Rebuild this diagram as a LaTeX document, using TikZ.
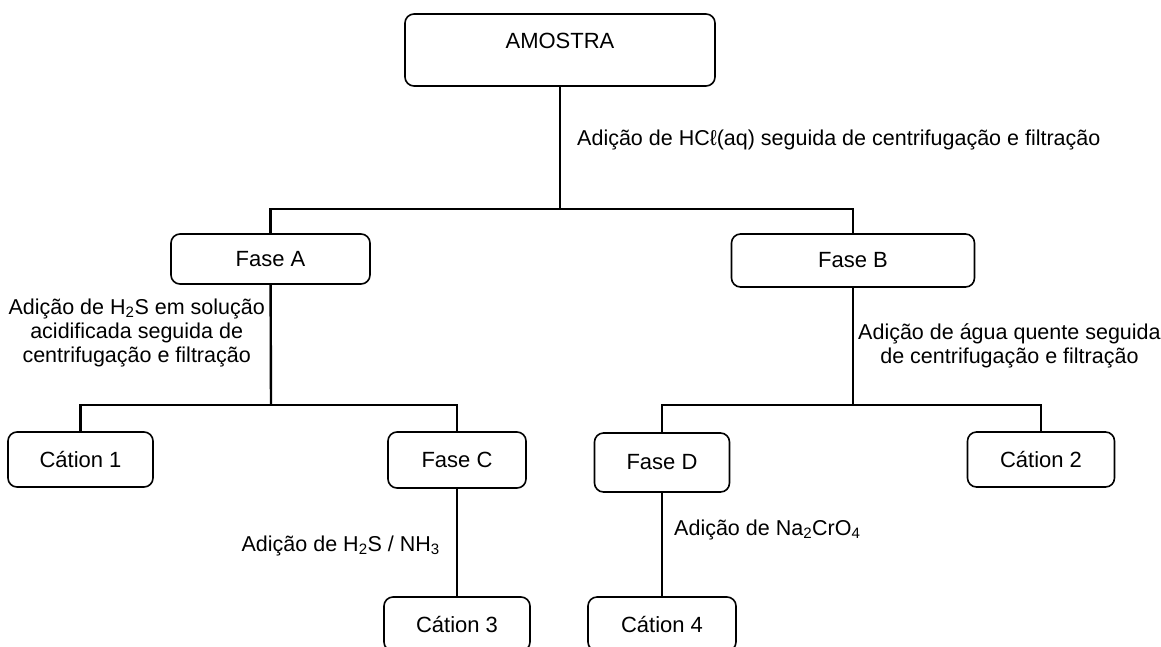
\documentclass[tikz,border=0pt]{standalone}
\usepackage{fontspec}
\setmainfont{Liberation Sans}
\begin{document}
\begin{tikzpicture}[x=1pt,y=-1pt,font=\fontsize{22}{24}\selectfont]
        \tikzstyle{fase}=[draw=black,line width=1.6pt,rounded corners=9pt,inner sep=0pt]
        \tikzstyle{edge}=[draw,line width=2.4pt]
        \tikzstyle{passo}=[inner sep=0pt,align=center,font=\fontsize{21.5}{24}\selectfont]
        \useasboundingbox (0,0) rectangle (1161,646);
       \begin{scope}
         \node [fase,minimum width=310pt,minimum height=72pt,text depth=18pt] (amostra) at (560,50) {AMOSTRA};
         \node [fase,minimum width=199pt,minimum height=50pt] (faseA) at (270.5,259) {Fase A};
         \node [fase,minimum width=243pt,minimum height=53pt] (faseB) at (853,260.5) {Fase B};
         \node [fase,minimum width=145pt,minimum height=55pt] (cation1) at (80.5,459.5) {Cátion 1};
         \node [fase,minimum width=138pt,minimum height=56pt] (faseC) at (457,460) {Fase C};
         \node [fase,minimum width=135pt,minimum height=59pt] (faseD) at (662,462.5) {Fase D};
         \node [fase,minimum width=147pt,minimum height=55pt] (cation2) at (1041,459.5) {Cátion 2};
         \node [fase,minimum width=146pt,minimum height=54pt] (cation3) at (457,624) {Cátion 3};
         \node [fase,minimum width=148pt,minimum height=54pt] (cation4) at (662,624) {Cátion 4};

         \coordinate (j1) at (560,209);
         \coordinate (j2) at (271,405);
         \coordinate (j3) at (853,405);

         \path[edge] (amostra) -- (j1);
         \path[edge] (faseA) |- (j1) -| (faseB);
         \path[edge] (faseA) -- (j2);
         \path[edge] (cation1) |- (j2) -| (faseC);
         \path[edge] (faseB) -- (j3);
         \path[edge] (faseD) |- (j3) -| (cation2);
         \path[edge] (faseC) -- (cation3);
         \path[edge] (faseD) -- (cation4);

         \node [passo,anchor=west] (hcl) at (577,140) {Adição de HCℓ(aq) seguida de centrifugação e filtração};
         \node [passo,anchor=east] (h2s) at (265,333) {Adição de H\textsubscript{2}S em solução\\acidificada seguida de\\centrifugação e filtração};
         \node [passo,anchor=west] (agua) at (858,346) {Adição de água quente seguida\\de centrifugação e filtração};
         \node [passo,anchor=east] (nh3) at (440,546) {Adição de H\textsubscript{2}S / NH\textsubscript{3}};
         \node [passo,anchor=west] (cro4) at (674,530) {Adição de Na\textsubscript{2}CrO\textsubscript{4}};
        \end{scope}
      \end{tikzpicture}
\end{document}
